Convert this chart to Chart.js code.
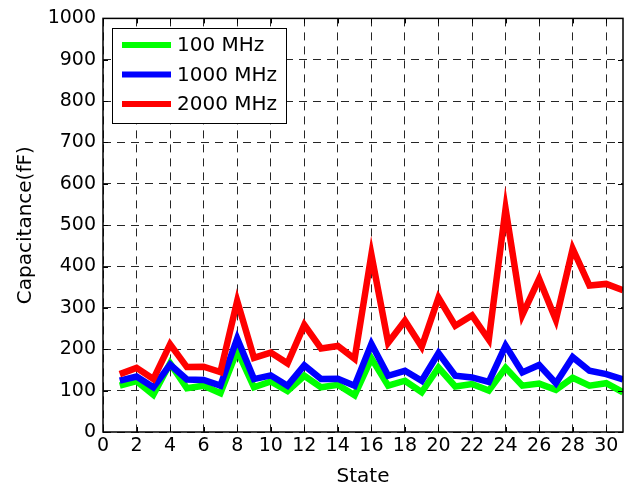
<!DOCTYPE html>
<html>
<head>
<meta charset="utf-8">
<script src="https://cdn.jsdelivr.net/npm/chart.js@4/dist/chart.umd.min.js"></script>
<style>
  html, body { margin: 0; padding: 0; background: #fff; }
  #wrap { width: 625px; height: 485px; }
</style>
</head>
<body>
<div id="wrap"><canvas id="grafico" width="625" height="485"></canvas></div>
<script>
const states = [1, 2, 3, 4, 5, 6, 7, 8, 9, 10, 11, 12, 13, 14, 15, 16, 17, 18, 19, 20, 21, 22, 23, 24, 25, 26, 27, 28, 29, 30, 31];
const mhz100 = [112, 123, 90, 166, 106, 112, 94, 197, 108, 122, 99, 136, 108, 114, 89, 178, 112, 124, 96, 156, 110, 116, 100, 155, 112, 117, 102, 131, 112, 118, 96];
const mhz1000 = [124, 134, 108, 163, 127, 126, 112, 226, 128, 137, 112, 161, 128, 129, 112, 213, 136, 148, 124, 191, 136, 132, 121, 209, 144, 162, 118, 181, 148, 140, 127];
const mhz2000 = [140, 155, 128, 212, 157, 158, 145, 317, 179, 192, 166, 259, 202, 208, 177, 429, 216, 269, 206, 325, 257, 282, 223, 540, 283, 370, 271, 443, 354, 358, 343];
const seriesNames = ['100 MHz', '1000 MHz', '2000 MHz'];
const xTicks = [0, 2, 4, 6, 8, 10, 12, 14, 16, 18, 20, 22, 24, 26, 28, 30];
const yTicks = [0, 100, 200, 300, 400, 500, 600, 700, 800, 900, 1000];

const fonte = '"DejaVu Sans", sans-serif';
const pontos = arr => states.map((s, i) => ({ x: s, y: arr[i] }));

// moldura, marcas internas e legenda no estilo MATLAB
const moldura = {
  id: 'moldura',
  afterDatasetsDraw(chart) {
    const { ctx, chartArea: a, scales } = chart;
    ctx.save();
    ctx.strokeStyle = '#000';
    ctx.lineWidth = 1;
    ctx.setLineDash([]);
    ctx.beginPath();
    xTicks.forEach(v => {
      const px = Math.round(scales.x.getPixelForValue(v)) + 0.5;
      ctx.moveTo(px, a.bottom); ctx.lineTo(px, a.bottom - 5);
      ctx.moveTo(px, a.top); ctx.lineTo(px, a.top + 5);
    });
    yTicks.forEach(v => {
      const py = Math.round(scales.y.getPixelForValue(v)) + 0.5;
      ctx.moveTo(a.left, py); ctx.lineTo(a.left + 5, py);
      ctx.moveTo(a.right, py); ctx.lineTo(a.right - 5, py);
    });
    ctx.stroke();
    ctx.lineWidth = 1.5;
    ctx.strokeRect(a.left, a.top, a.right - a.left, a.bottom - a.top);

    // legenda
    const lx = 112, ly = 28, lw = 174, lh = 95;
    ctx.fillStyle = '#fff';
    ctx.fillRect(lx, ly, lw, lh);
    ctx.lineWidth = 1;
    ctx.strokeRect(lx + 0.5, ly + 0.5, lw, lh);
    ctx.font = '20px ' + fonte;
    ctx.textBaseline = 'middle';
    chart.data.datasets.forEach((ds, i) => {
      const y = 45 + i * 29.5;
      ctx.strokeStyle = ds.borderColor;
      ctx.lineWidth = 6;
      ctx.beginPath();
      ctx.moveTo(122, y); ctx.lineTo(171, y);
      ctx.stroke();
      ctx.fillStyle = '#000';
      ctx.fillText(ds.label, 177, y + 1);
    });
    ctx.restore();
  }
};

const ctx = document.getElementById('grafico').getContext('2d');
new Chart(ctx, {
  type: 'line',
  data: {
    datasets: [
      { label: seriesNames[0], data: pontos(mhz100), borderColor: '#00ff00', order: 2 },
      { label: seriesNames[1], data: pontos(mhz1000), borderColor: '#0000ff', order: 1 },
      { label: seriesNames[2], data: pontos(mhz2000), borderColor: '#ff0000', order: 0 }
    ]
  },
  options: {
    responsive: false,
    animation: false,
    devicePixelRatio: 1,
    datasets: {
      line: { borderWidth: 6.5, pointRadius: 0, tension: 0, fill: false, borderJoinStyle: 'miter', borderCapStyle: 'butt' }
    },
    layout: { padding: { top: 18, right: 2, left: 0, bottom: 0 } },
    plugins: {
      legend: { display: false },
      tooltip: { enabled: false }
    },
    scales: {
      x: {
        type: 'linear',
        min: 0,
        max: 31,
        afterBuildTicks: s => { s.ticks = xTicks.map(v => ({ value: v })); },
        afterFit: s => { s.height = 53; },
        ticks: { color: '#000', font: { family: fonte, size: 19 }, padding: 3, maxRotation: 0, autoSkip: false, callback: v => String(v) },
        grid: { color: 'rgba(0,0,0,0.85)', lineWidth: 1, drawTicks: false },
        border: { display: false, dash: [8, 6] },
        title: { display: true, text: 'State', color: '#000', font: { family: fonte, size: 20, lineHeight: 0.8 }, padding: { top: 0, bottom: 0 } }
      },
      y: {
        min: 0,
        max: 1000,
        afterBuildTicks: s => { s.ticks = yTicks.map(v => ({ value: v })); },
        afterFit: s => { s.width = 103; },
        ticks: { color: '#000', font: { family: fonte, size: 19 }, padding: 7, callback: v => String(v) },
        grid: { color: 'rgba(0,0,0,0.85)', lineWidth: 1, drawTicks: false },
        border: { display: false, dash: [8, 6] },
        title: { display: true, text: 'Capacitance(fF)', color: '#000', font: { family: fonte, size: 20, lineHeight: 1 }, padding: { top: 16, bottom: 0 } }
      }
    }
  },
  plugins: [moldura]
});
</script>
</body>
</html>
